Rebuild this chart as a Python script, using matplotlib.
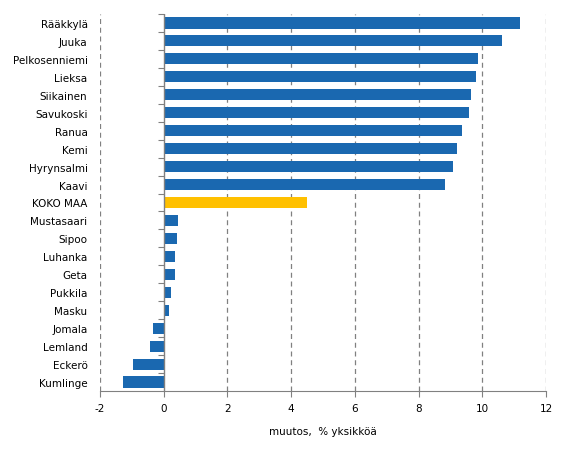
import matplotlib
matplotlib.use("Agg")
import matplotlib.pyplot as plt

# municipalities, top to bottom as shown
kunnat = ["Rääkkylä", "Juuka", "Pelkosenniemi", "Lieksa", "Siikainen",
          "Savukoski", "Ranua", "Kemi", "Hyrynsalmi", "Kaavi", "KOKO MAA",
          "Mustasaari", "Sipoo", "Luhanka", "Geta", "Pukkila", "Masku",
          "Jomala", "Lemland", "Eckerö", "Kumlinge"]
muutos = [11.17, 10.61, 9.86, 9.79, 9.64, 9.57, 9.35, 9.20, 9.07, 8.82, 4.49,
          0.46, 0.43, 0.34, 0.34, 0.24, 0.18, -0.35, -0.42, -0.95, -1.27]
x_ticks = [-2, 0, 2, 4, 6, 8, 10, 12]

blue = "#1a68b0"
yellow = "#ffc000"
grey = "#808080"

fig = plt.figure(figsize=(5.69, 4.56), dpi=100)
ax = fig.add_axes([100 / 569, 1 - 392 / 456, 446 / 569, 377 / 456])

colors = [yellow if k == "KOKO MAA" else blue for k in kunnat]
pos = list(range(len(kunnat)))
ax.barh(pos, muutos, height=0.62, color=colors, zorder=3)

ax.set_xlim(-2, 12)
ax.set_ylim(len(kunnat) - 0.5, -0.5)
ax.set_xticks(x_ticks)
ax.set_xticklabels([str(t) for t in x_ticks], fontsize=7.5)
ax.set_yticks(pos)
ax.set_yticklabels(kunnat, fontsize=7.5)
ax.tick_params(axis="y", length=0, pad=9)
ax.tick_params(axis="x", length=4, color=grey, pad=5)

# dashed vertical grid, zero line solid
for t in x_ticks:
    if t != 0:
        ax.axvline(t, color=grey, lw=0.9, ls=(0, (4, 3)), zorder=1)
ax.axvline(0, color=grey, lw=1.0, zorder=4)

for s in ["left", "right", "top"]:
    ax.spines[s].set_visible(False)
ax.spines["bottom"].set_color(grey)

# small category ticks on the zero axis
sec = ax.secondary_yaxis((0 - (-2)) / 14)
sec.spines["left"].set_visible(False)
sec.set_yticks([p - 0.5 for p in pos])
sec.set_yticklabels([])
sec.tick_params(axis="y", length=4, color=grey)

ax.set_xlabel("muutos,  % yksikköä", fontsize=7.5, labelpad=9)

fig.savefig("out.png", dpi=100)
